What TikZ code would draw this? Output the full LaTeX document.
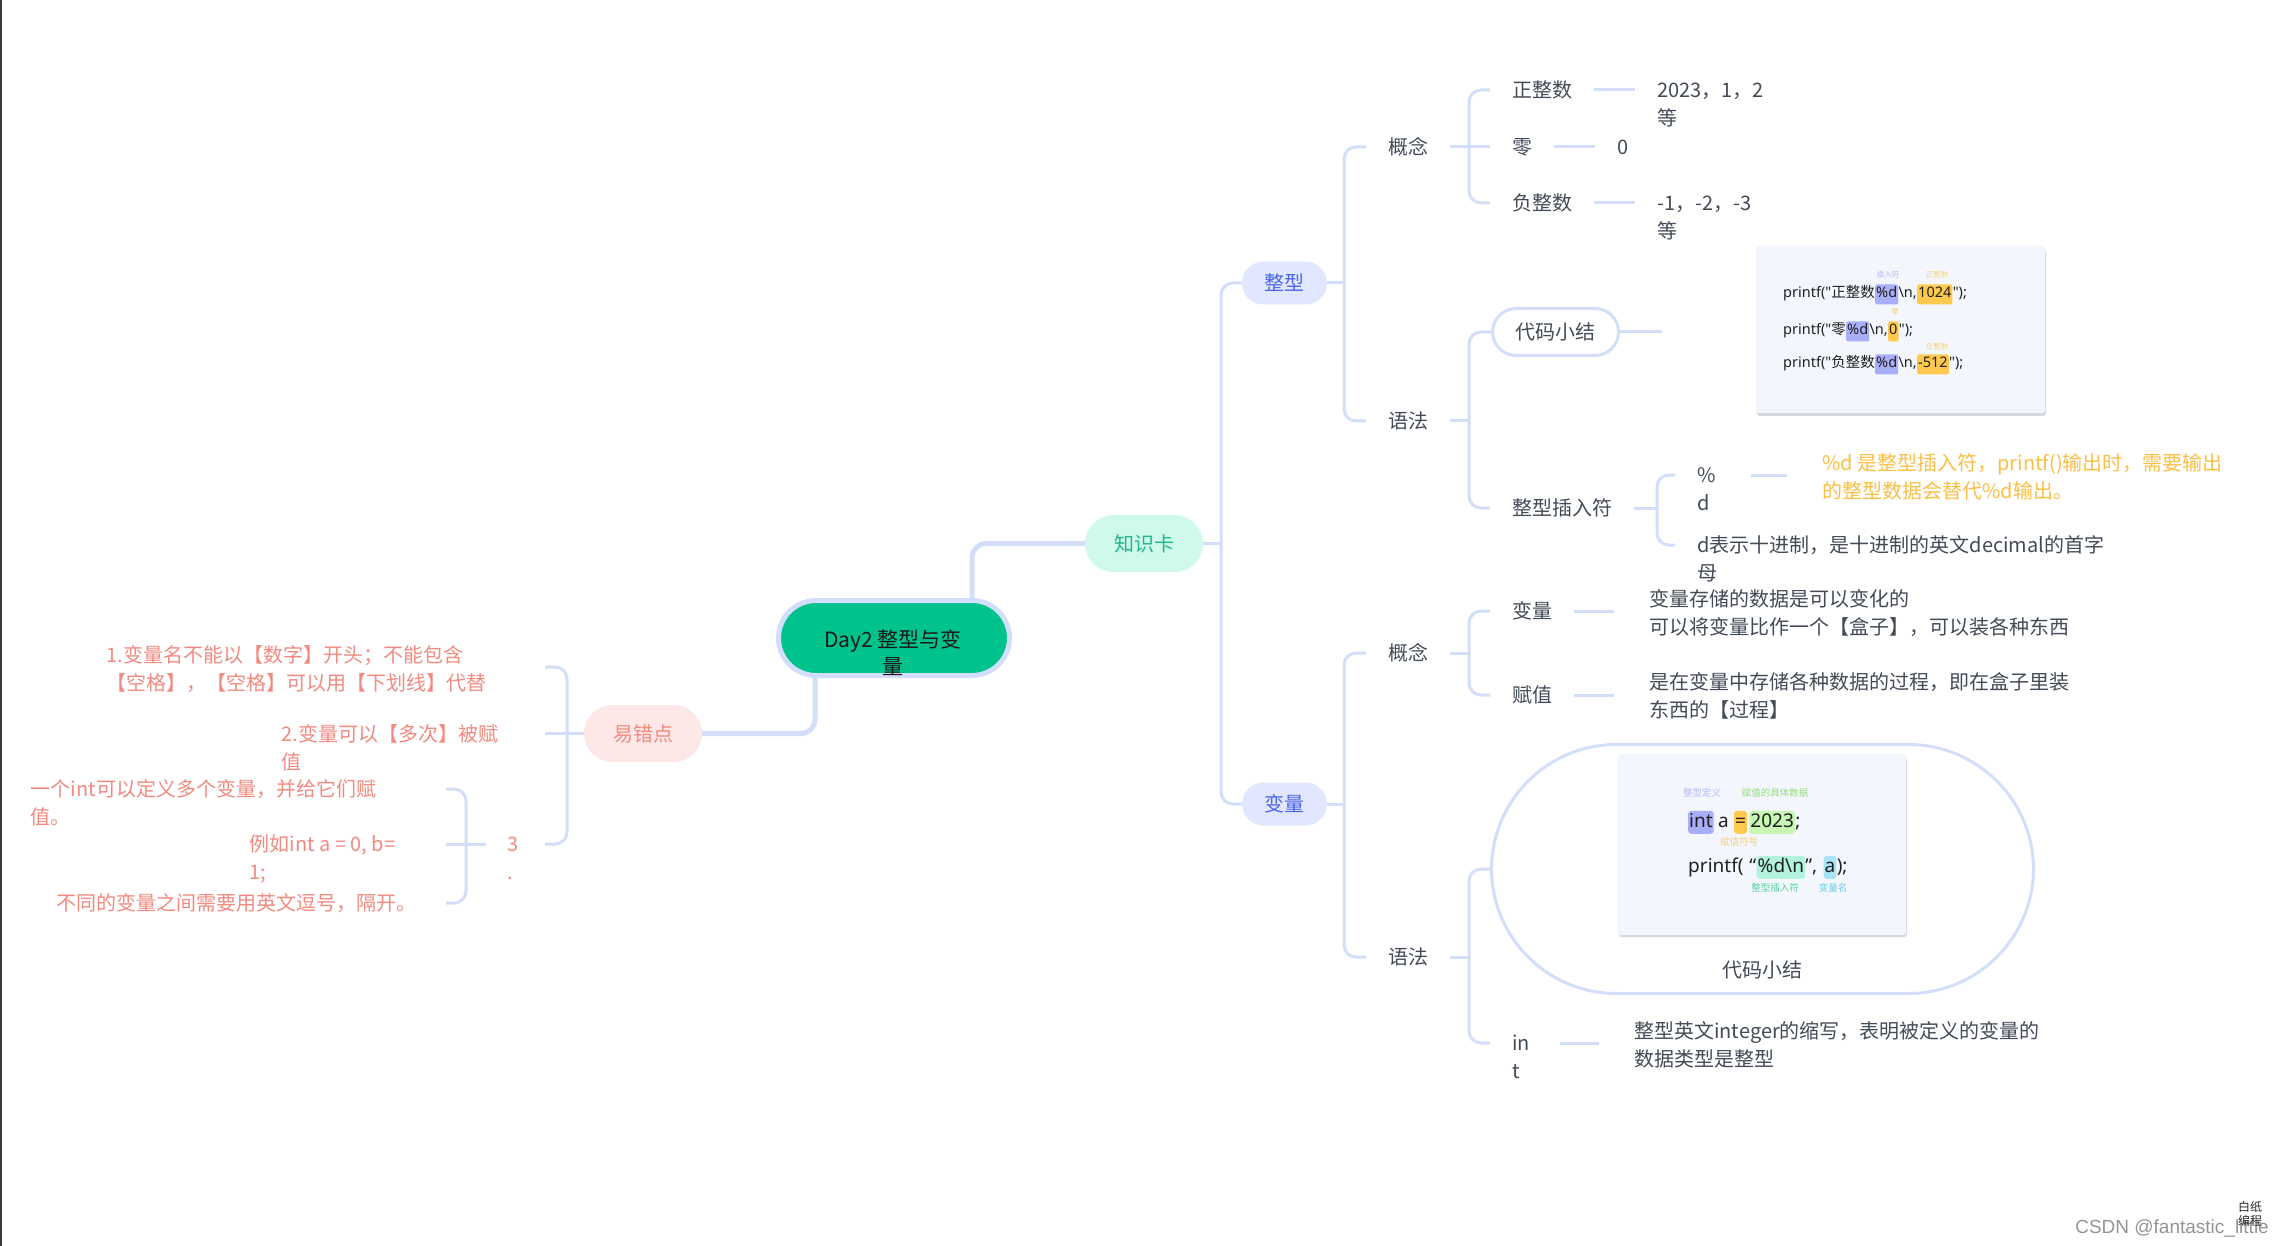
\documentclass[tikz,border=0pt]{standalone}
\usepackage{fontspec}
\setmainfont{Noto Sans CJK SC}
\newfontfamily\cjkf{Noto Sans CJK SC}
\newfontfamily\latf{Noto Sans}
\newfontfamily\wmfont{Liberation Sans}
\usetikzlibrary{calc}

\definecolor{linec}{HTML}{D3DEF9}
\definecolor{txt}{HTML}{434B57}
\definecolor{rootg}{HTML}{00C28D}
\definecolor{rootb}{HTML}{D3DEFA}
\definecolor{kcfill}{HTML}{CFFAEB}
\definecolor{kctext}{HTML}{22B78A}
\definecolor{zxfill}{HTML}{E1E7FE}
\definecolor{zxtext}{HTML}{4A65EA}
\definecolor{ycfill}{HTML}{FDE8E7}
\definecolor{yctext}{HTML}{F2897F}
\definecolor{salmon}{HTML}{F28A80}
\definecolor{orange}{HTML}{FBBF45}
\definecolor{boxbg}{HTML}{F3F7FD}
\definecolor{boxsh}{HTML}{D5D9DF}
\definecolor{hlav}{HTML}{A9AEF9}
\definecolor{hyel}{HTML}{FFC94D}
\definecolor{hgrn}{HTML}{C8F7B3}
\definecolor{hmint}{HTML}{B3F3DD}
\definecolor{hblue}{HTML}{A8E3F6}
\definecolor{llav}{HTML}{B3B9F6}
\definecolor{lyel}{HTML}{F7CF78}
\definecolor{lgrn}{HTML}{93DE78}
\definecolor{lmint}{HTML}{57D0A0}
\definecolor{lcyan}{HTML}{6FCDE6}

\newcommand\fsmain{\fontsize{20}{28}\selectfont}
\newcommand\fscode{\fontsize{14.5}{16}\selectfont}
\newcommand\fscodeb{\fontsize{19}{22}\selectfont}
% two lines, baseline of the first line is the box baseline
\newcommand\twol[2]{\vtop{\hbox{\strut #1}\hbox{\strut #2}}}
\newcommand\twolw[3]{\vtop{\hbox to #1{\strut #2\hfil}\hbox to #1{\strut #3\hfil}}}
\newcommand\onelw[2]{\hbox to #1{\strut #2\hfil}}

\tikzset{
  lf/.style={font=\fsmain, text=txt, inner xsep=22pt, inner ysep=0pt,
             text height=15pt, text depth=0pt, anchor=west},
  mid2/.style={text height=10pt, text depth=18.8pt},
  pill/.style={rounded corners=21.5pt, minimum width=85pt, minimum height=43pt,
               inner sep=0pt, font=\fsmain},
  c1/.style={line width=5pt, draw=linec, rounded corners=14pt},
  c2/.style={line width=3pt, draw=linec, rounded corners=12pt},
  imgbox/.style={fill=boxbg, rounded corners=3pt, inner sep=0pt},
  cd/.style={font=\latf\fscode, text=black!88, inner sep=0pt, anchor=base west},
  cdb/.style={font=\latf\fscodeb, text=black!88, inner sep=0pt, anchor=base west},
  hl/.style={fill=#1, rounded corners=2pt, inner xsep=1pt, inner ysep=3.5pt,
             text height=10pt, text depth=3pt},
  hlb/.style={fill=#1, rounded corners=3pt, inner xsep=1pt, inner ysep=2.75pt,
              text height=13.5pt, text depth=4pt},
  tl/.style={font=\fontsize{7.5}{9}\selectfont, inner sep=0pt},
  tlb/.style={font=\fontsize{9.5}{11}\selectfont, inner sep=0pt},
}

\begin{document}
\begin{tikzpicture}[x=1pt, y=-1pt]
\useasboundingbox (0,0) rectangle (2284,1246);
\fill[white] (0,0) rectangle (2284,1246);
\draw[line width=2pt, draw=black!78] (1,0) -- (1,1246);

% ---------- centre ----------
\node[fill=rootg, draw=rootb, line width=5pt, rounded corners=37.5pt,
      minimum width=231pt, minimum height=75pt, inner sep=0pt] (root) at (894,638) {};
\node[font=\fontsize{21}{27}\selectfont, text=black!90, align=center, inner sep=0pt]
      (roottext) at (893,653) {Day2 整型与变\\量};

% ---------- main branches ----------
\node[pill, fill=kcfill, text=kctext, minimum width=118pt, minimum height=57pt,
      rounded corners=28.5pt] (kc) at (1144,543.5) {知识卡};
\node[pill, fill=ycfill, text=yctext, minimum width=118pt, minimum height=57pt,
      rounded corners=28.5pt] (yc) at (643,733.5) {易错点};

\draw[c1] ([xshift=78pt]root.north) |- (kc.west);
\draw[c1] ([xshift=-79pt]root.south) |- (yc.east);

\node[pill, fill=zxfill, text=zxtext] (zx) at (1284.5,283) {整型};
\node[pill, fill=zxfill, text=zxtext] (bl) at (1284.5,804) {变量};
\coordinate (tr1) at (1221,543.5);
\draw[c2] (kc.east) -- (kc.east -| tr1);
\draw[c2] (zx.west) -| (tr1) |- (bl.west);

% ---------- 整型 ----------
\node[lf] (zgn) at (1366,147) {概念};
\node[lf] (zyf) at (1366,421) {语法};
\coordinate (tz) at (1344,283);
\draw[c2] (zx.east) -- (zx.east -| tz);
\draw[c2] (zgn.west) -| (tz) |- (zyf.west);

\node[lf] (zpos) at (1490,90) {正整数};
\node[lf] (zzero) at (1490,147) {零};
\node[lf] (zneg) at (1490,203) {负整数};
\coordinate (tzg) at (1469,147);
\draw[c2] (zgn.east) -- (zgn.east -| tzg);
\draw[c2] (zpos.west) -| (tzg) |- (zneg.west);
\draw[c2] (zzero.west) -- (zzero.west -| tzg);

\node[lf] (zposv) at (1635,90) {\twol{2023，1，2}{等}};
\node[lf] (zzerov) at (1595,147) {0};
\node[lf] (znegv) at (1635,203) {\twol{-1，-2，-3}{等}};
\draw[c2] (zpos.east) -- (zpos.east -| zposv.west);
\draw[c2] (zzero.east) -- (zzero.east -| zzerov.west);
\draw[c2] (zneg.east) -- (zneg.east -| znegv.west);

\node[pill, fill=white, draw=linec, line width=3pt, text=txt, minimum width=126pt,
      minimum height=47pt, rounded corners=23.5pt] (zcode) at (1555.5,332) {代码小结};
\node[lf] (zins) at (1490,508) {整型插入符};
\coordinate (tzy) at (1469,421);
\draw[c2] (zyf.east) -- (zyf.east -| tzy);
\draw[c2] (zcode.west) -| (tzy) |- (zins.west);
\coordinate (zcend) at (1662,332);
\draw[c2] (zcode.east) -- (zcend);

% code card: printf lines
\fill[boxsh, rounded corners=3pt] (1757,249) rectangle (2046,416);
\node[imgbox, minimum width=289pt, minimum height=167pt] (zimg) at (1900.5,329.5) {};
\node[cd] (z1a) at (1783,298) {printf("{\cjkf 正整数}};
\node[cd,hl=hlav] (z1b) at (z1a.base east) {\%d};
\node[cd] (z1c) at (z1b.base east) {\textbackslash n,};
\node[cd,hl=hyel] (z1d) at (z1c.base east) {1024};
\node[cd] (z1e) at (z1d.base east) {");};
\node[cd] (z2a) at (1783,335) {printf("{\cjkf 零}};
\node[cd,hl=hlav] (z2b) at (z2a.base east) {\%d};
\node[cd] (z2c) at (z2b.base east) {\textbackslash n,};
\node[cd,hl=hyel] (z2d) at (z2c.base east) {0};
\node[cd] (z2e) at (z2d.base east) {");};
\node[cd] (z3a) at (1783,368) {printf("{\cjkf 负整数}};
\node[cd,hl=hlav] (z3b) at (z3a.base east) {\%d};
\node[cd] (z3c) at (z3b.base east) {\textbackslash n,};
\node[cd,hl=hyel] (z3d) at (z3c.base east) {-512};
\node[cd] (z3e) at (z3d.base east) {");};
\node[tl, text=llav] (z1l) at (1888,275) {插入符};
\node[tl, text=lyel] (z1m) at (1937,275) {正整数};
\node[tl, text=lyel] (z2m) at (1895,312) {零};
\node[tl, text=lyel] (z3m) at (1937,347) {负整数};

% 整型插入符 children
\node[lf] (zpd) at (1675,475) {\twolw{32pt}{\%}{d}};
\node[lf] (zdec) at (1675,545) {\twol{d表示十进制，是十进制的英文decimal的首字}{母}};
\coordinate (tzi) at (1657,508);
\draw[c2] (zins.east) -- (zins.east -| tzi);
\draw[c2] (zpd.west) -| (tzi) |- (zdec.west);
\node[lf, text=orange, inner xsep=35pt] (zpdv) at (1787,463)
      {\twol{\%d 是整型插入符，printf()输出时，需要输出}{的整型数据会替代\%d输出。}};
\draw[c2] (zpd.east) -- (zpd.east -| zpdv.west);

% ---------- 变量 ----------
\node[lf] (bgn) at (1366,653) {概念};
\node[lf] (byf) at (1366,957) {语法};
\coordinate (tb) at (1344,804);
\draw[c2] (bl.east) -- (bl.east -| tb);
\draw[c2] (bgn.west) -| (tb) |- (byf.west);

\node[lf] (bvar) at (1490,611) {变量};
\node[lf] (bfz) at (1490,695) {赋值};
\coordinate (tbg) at (1469,653);
\draw[c2] (bgn.east) -- (bgn.east -| tbg);
\draw[c2] (bvar.west) -| (tbg) |- (bfz.west);
\node[lf, inner xsep=35pt] (bvarv) at (1614,599)
      {\twol{变量存储的数据是可以变化的}{可以将变量比作一个【盒子】，可以装各种东西}};
\node[lf, inner xsep=35pt] (bfzv) at (1614,682)
      {\twol{是在变量中存储各种数据的过程，即在盒子里装}{东西的【过程】}};
\draw[c2] (bvar.east) -- (bvar.east -| bvarv.west);
\draw[c2] (bfz.east) -- (bfz.east -| bfzv.west);

\node[draw=linec, line width=3pt, fill=white, rounded corners=125pt,
      minimum width=542pt, minimum height=249pt, inner sep=0pt] (bcode) at (1762.5,869) {};
\node[lf] (bint) at (1490,1043) {\twolw{26pt}{in}{t}};
\coordinate (tby) at (1469,957);
\draw[c2] (byf.east) -- (byf.east -| tby);
\draw[c2] (bcode.west) -| (tby) |- (bint.west);
\node[lf, inner xsep=35pt] (bintv) at (1599,1031)
      {\twol{整型英文integer的缩写，表明被定义的变量的}{数据类型是整型}};
\draw[c2] (bint.east) -- (bint.east -| bintv.west);

% code card: int a = 2023;
\fill[boxsh, rounded corners=3pt] (1619,757) rectangle (1907,937);
\node[imgbox, minimum width=288pt, minimum height=181pt] (bimg) at (1762,844.5) {};
\node[cdb,hlb=hlav] (b1a) at (1688,827) {int};
\node[cdb] (b1b) at (b1a.base east) {\kern4pt a\kern5pt};
\node[cdb,hlb=hyel] (b1c) at (b1b.base east) {=};
\node[cdb,hlb=hgrn] (b1d) at ([xshift=2pt]b1c.base east) {2023};
\node[cdb] (b1e) at (b1d.base east) {;};
\node[cdb] (b2a) at (1688,872) {printf(\kern6pt“};
\node[cdb,hlb=hmint] (b2b) at (b2a.base east) {\%d\textbackslash n};
\node[cdb] (b2c) at (b2b.base east) {”,\kern6pt};
\node[cdb,hlb=hblue] (b2d) at (b2c.base east) {a};
\node[cdb] (b2e) at (b2d.base east) {);};
\node[tlb, text=llav] (b1l) at (1702,793) {整型定义};
\node[tlb, text=lgrn] (b1m) at (1775,793) {赋值的具体数据};
\node[tlb, text=lyel] (b1n) at (1739,842) {赋值符号};
\node[tlb, text=lmint] (b2l) at (1775,888) {整型插入符};
\node[tlb, text=lcyan] (b2m) at (1833,888) {变量名};
\node[font=\fsmain, text=txt, inner sep=0pt] (bcodelbl) at (1762,970) {代码小结};

% ---------- 易错点 ----------
\node[lf, text=salmon, anchor=east, mid2] (L1) at (545,667)
      {\twolw{416pt}{1.变量名不能以【数字】开头；不能包含}{【空格】，【空格】可以用【下划线】代替}};
\node[lf, text=salmon, anchor=east] (L2) at (545,733.5)
      {\twolw{241pt}{2.变量可以【多次】被赋}{值}};
\node[lf, text=salmon, anchor=east] (L3) at (545,844)
      {\twolw{15pt}{3}{.}};
\coordinate (ty) at (567,733.5);
\draw[c2] (yc.west) -- (yc.west -| ty);
\draw[c2] (L1.east) -| (ty) |- (L3.east);
\draw[c2] (L2.east) -- (L2.east -| ty);

\node[lf, text=salmon, anchor=east] (L3a) at (446,789)
      {\twolw{393pt}{一个int可以定义多个变量，并给它们赋}{值。}};
\node[lf, text=salmon, anchor=east] (L3b) at (446,844)
      {\twolw{174pt}{例如int a = 0, b=}{1;}};
\node[lf, text=salmon, anchor=east] (L3c) at (446,903)
      {\onelw{367pt}{不同的变量之间需要用英文逗号，隔开。}};
\coordinate (t3) at (466,844);
\draw[c2] (L3.west) -- (L3.west -| t3);
\draw[c2] (L3a.east) -| (t3) |- (L3c.east);
\draw[c2] (L3b.east) -- (L3b.east -| t3);

% ---------- footer ----------
\node[font=\wmfont\fontsize{19}{22}\selectfont, text=black!42, anchor=east, inner sep=0pt]
      (wm) at (2269,1228) {CSDN @fantastic\_little};
\node[font=\fontsize{12}{14}\selectfont, text=black!85, align=left, anchor=west, inner sep=0pt]
      (bz) at (2238,1214) {白纸\\编程};
\end{tikzpicture}
\end{document}
